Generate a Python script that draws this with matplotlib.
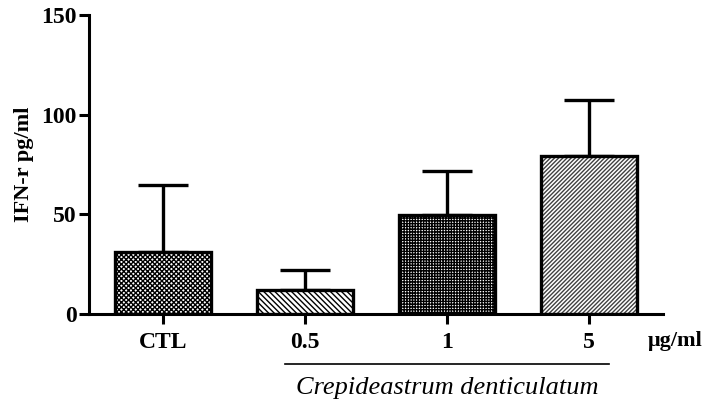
import matplotlib.pyplot as plt
import numpy as np

# IFN-r levels per treatment
groups = ["CTL", "0.5", "1", "5"]
means = [31, 12, 49.5, 79.5]
errors = [34, 10, 22.5, 28]
hatches = ["xxxxxxx", "\\\\\\\\\\\\", "++++++", "////////"]
hatch_colors = ["black", "black", "black", "0.25"]

plt.rcParams["font.family"] = ["Liberation Serif", "DejaVu Serif"]
plt.rcParams["hatch.linewidth"] = 1.0

fig = plt.figure(figsize=(7.1, 4.08), dpi=100)
ax = fig.add_axes([0.1254, 0.230, 0.8086, 0.733])

x = np.arange(len(groups))
w = 0.675
# hatch fill first, then a black outline on top
fills = ax.bar(x, means, width=w, color="white", linewidth=0, zorder=2)
for bar, h, c in zip(fills, hatches, hatch_colors):
    bar.set_hatch(h)
    bar.set_edgecolor(c)
ax.bar(x, means, width=w, fill=False, edgecolor="black", linewidth=2.4, zorder=3)

# upper error bars only
ax.errorbar(x, means, yerr=[np.zeros(len(errors)), errors], fmt="none",
            ecolor="black", elinewidth=2.4, capsize=18, capthick=2.4, zorder=1)

ax.set_xlim(-0.52, 3.52)
ax.set_ylim(0, 150)
ax.set_yticks([0, 50, 100, 150])
ax.set_xticks(x)
ax.set_xticklabels(groups, fontsize=17, fontweight="bold")
ax.tick_params(axis="y", labelsize=17, width=2.2, length=7, direction="out", pad=2)
ax.tick_params(axis="x", width=2.2, length=7, direction="out", pad=6)
for lab in ax.get_yticklabels():
    lab.set_fontweight("bold")

for side in ["top", "right"]:
    ax.spines[side].set_visible(False)
for side in ["left", "bottom"]:
    ax.spines[side].set_linewidth(2.2)

ax.set_ylabel("IFN-r pg/ml", fontsize=16, fontweight="bold", labelpad=5)

# unit label and extract bracket
ax.text(3.41, -0.09, "\u03bcg/ml", transform=ax.get_xaxis_transform(),
        fontsize=16, fontweight="bold", ha="left", va="center")
ax.plot([0.86, 3.14], [-0.165, -0.165], transform=ax.get_xaxis_transform(),
        color="black", linewidth=1.2, clip_on=False)
ax.text(2.0, -0.248, "Crepideastrum denticulatum",
        transform=ax.get_xaxis_transform(), fontsize=19, fontstyle="italic",
        ha="center", va="center")

fig.savefig("out.png", dpi=100)
